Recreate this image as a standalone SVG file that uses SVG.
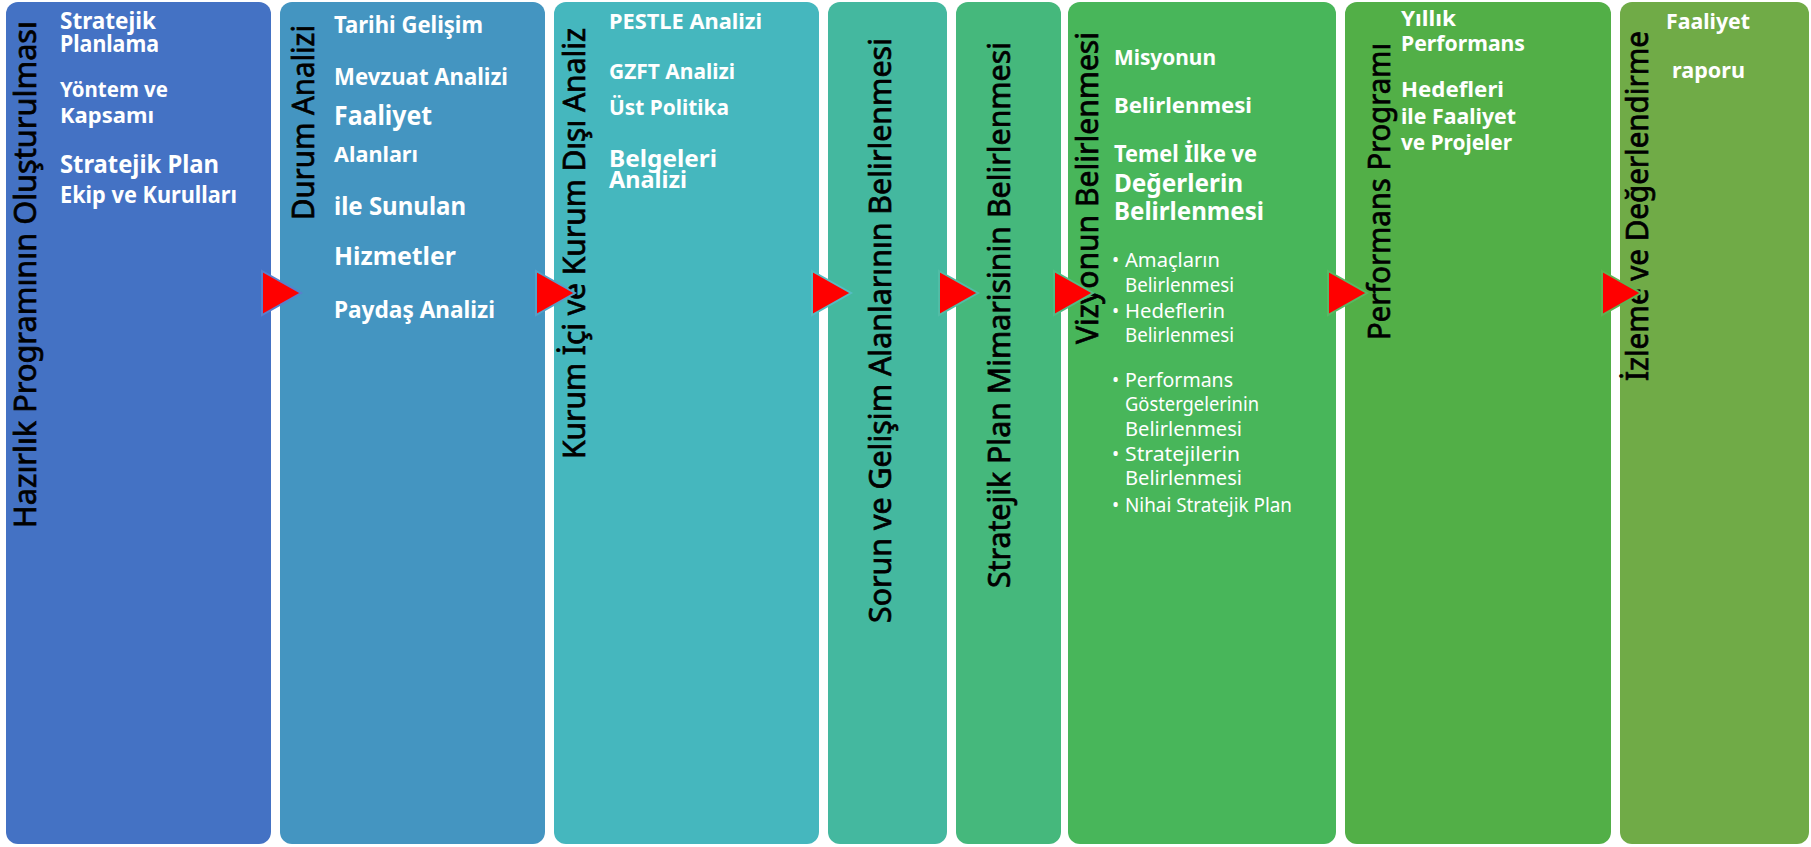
<svg xmlns="http://www.w3.org/2000/svg" width="1811" height="847" viewBox="0 0 1811 847">
<defs>
<style>
.panel{stroke:none}
.title{font-family:"Noto Sans","Liberation Sans",sans-serif;font-size:30px;fill:#000000;stroke:#000000;stroke-width:0.7}
.w{font-family:"Noto Sans","Liberation Sans",sans-serif;font-weight:bold;fill:#ffffff}
.b{font-family:"Noto Sans","Liberation Sans",sans-serif;font-size:19px;fill:#ffffff}
.arrow{fill:#ff0000;stroke-width:2;stroke-linejoin:miter}
</style>
</defs>
<rect x="0" y="0" width="1811" height="847" fill="#ffffff"/>
<g id="node-1">
<rect class="panel" x="6" y="2" width="265" height="842" rx="12" fill="#4472C4"/>
<text class="title" transform="translate(36,528) rotate(-90)" textLength="507" lengthAdjust="spacingAndGlyphs">Hazırlık Programının Oluşturulması</text>
<text class="w" x="60" y="29" font-size="23" textLength="96" lengthAdjust="spacingAndGlyphs">Stratejik</text>
<text class="w" x="60" y="52" font-size="23" textLength="99" lengthAdjust="spacingAndGlyphs">Planlama</text>
<text class="w" x="60" y="97" font-size="22" textLength="108" lengthAdjust="spacingAndGlyphs">Yöntem ve</text>
<text class="w" x="60" y="123" font-size="22" textLength="94" lengthAdjust="spacingAndGlyphs">Kapsamı</text>
<text class="w" x="60" y="173" font-size="25" textLength="159" lengthAdjust="spacingAndGlyphs">Stratejik Plan</text>
<text class="w" x="60" y="203" font-size="24" textLength="177" lengthAdjust="spacingAndGlyphs">Ekip ve Kurulları</text>
</g>
<g id="node-2">
<rect class="panel" x="280" y="2" width="265" height="842" rx="12" fill="#4495C1"/>
<text class="title" transform="translate(314,220) rotate(-90)" textLength="195" lengthAdjust="spacingAndGlyphs">Durum Analizi</text>
<text class="w" x="334" y="33" font-size="24" textLength="149" lengthAdjust="spacingAndGlyphs">Tarihi Gelişim</text>
<text class="w" x="334" y="85" font-size="24" textLength="174" lengthAdjust="spacingAndGlyphs">Mevzuat Analizi</text>
<text class="w" x="334" y="125" font-size="26" textLength="98" lengthAdjust="spacingAndGlyphs">Faaliyet</text>
<text class="w" x="334" y="162" font-size="22" textLength="84" lengthAdjust="spacingAndGlyphs">Alanları</text>
<text class="w" x="334" y="215" font-size="25" textLength="132" lengthAdjust="spacingAndGlyphs">ile Sunulan</text>
<text class="w" x="334" y="265" font-size="25" textLength="122" lengthAdjust="spacingAndGlyphs">Hizmetler</text>
<text class="w" x="334" y="318" font-size="24" textLength="161" lengthAdjust="spacingAndGlyphs">Paydaş Analizi</text>
</g>
<g id="node-3">
<rect class="panel" x="554" y="2" width="265" height="842" rx="12" fill="#45B7BE"/>
<text class="title" transform="translate(585,459) rotate(-90)" textLength="431" lengthAdjust="spacingAndGlyphs">Kurum İçi ve Kurum Dışı Analiz</text>
<text class="w" x="609" y="29" font-size="22" textLength="153" lengthAdjust="spacingAndGlyphs">PESTLE Analizi</text>
<text class="w" x="609" y="79" font-size="22" textLength="126" lengthAdjust="spacingAndGlyphs">GZFT Analizi</text>
<text class="w" x="609" y="115" font-size="22" textLength="120" lengthAdjust="spacingAndGlyphs">Üst Politika</text>
<text class="w" x="609" y="167" font-size="23" textLength="108" lengthAdjust="spacingAndGlyphs">Belgeleri</text>
<text class="w" x="609" y="188" font-size="23" textLength="78" lengthAdjust="spacingAndGlyphs">Analizi</text>
</g>
<g id="node-4">
<rect class="panel" x="828" y="2" width="119" height="842" rx="12" fill="#44B89F"/>
<text class="title" transform="translate(891,623) rotate(-90)" textLength="585" lengthAdjust="spacingAndGlyphs">Sorun ve Gelişim Alanlarının Belirlenmesi</text>
</g>
<g id="node-5">
<rect class="panel" x="956" y="2" width="105" height="842" rx="12" fill="#45B87C"/>
<text class="title" transform="translate(1010,588) rotate(-90)" textLength="546" lengthAdjust="spacingAndGlyphs">Stratejik Plan Mimarisinin Belirlenmesi</text>
</g>
<g id="node-6">
<rect class="panel" x="1068" y="2" width="268" height="842" rx="12" fill="#48B65A"/>
<text class="title" transform="translate(1098,344) rotate(-90)" textLength="312" lengthAdjust="spacingAndGlyphs">Vizyonun Belirlenmesi</text>
<text class="w" x="1114" y="65" font-size="22" textLength="102" lengthAdjust="spacingAndGlyphs">Misyonun</text>
<text class="w" x="1114" y="113" font-size="22" textLength="138" lengthAdjust="spacingAndGlyphs">Belirlenmesi</text>
<text class="w" x="1114" y="162" font-size="23" textLength="143" lengthAdjust="spacingAndGlyphs">Temel İlke ve</text>
<text class="w" x="1114" y="192" font-size="25" textLength="129" lengthAdjust="spacingAndGlyphs">Değerlerin</text>
<text class="w" x="1114" y="220" font-size="25" textLength="150" lengthAdjust="spacingAndGlyphs">Belirlenmesi</text>
<text class="b" x="1112" y="267">•</text>
<text class="b" x="1125" y="267" textLength="95" lengthAdjust="spacingAndGlyphs">Amaçların</text>
<text class="b" x="1125" y="292" textLength="109" lengthAdjust="spacingAndGlyphs">Belirlenmesi</text>
<text class="b" x="1112" y="318">•</text>
<text class="b" x="1125" y="318" textLength="100" lengthAdjust="spacingAndGlyphs">Hedeflerin</text>
<text class="b" x="1125" y="342" textLength="109" lengthAdjust="spacingAndGlyphs">Belirlenmesi</text>
<text class="b" x="1112" y="387">•</text>
<text class="b" x="1125" y="387" textLength="108" lengthAdjust="spacingAndGlyphs">Performans</text>
<text class="b" x="1125" y="411" textLength="134" lengthAdjust="spacingAndGlyphs">Göstergelerinin</text>
<text class="b" x="1125" y="436" textLength="117" lengthAdjust="spacingAndGlyphs">Belirlenmesi</text>
<text class="b" x="1112" y="461">•</text>
<text class="b" x="1125" y="461" textLength="115" lengthAdjust="spacingAndGlyphs">Stratejilerin</text>
<text class="b" x="1125" y="485" textLength="117" lengthAdjust="spacingAndGlyphs">Belirlenmesi</text>
<text class="b" x="1112" y="512">•</text>
<text class="b" x="1125" y="512" textLength="167" lengthAdjust="spacingAndGlyphs">Nihai Stratejik Plan</text>
</g>
<g id="node-7">
<rect class="panel" x="1345" y="2" width="266" height="842" rx="12" fill="#52AF47"/>
<text class="title" transform="translate(1390,340) rotate(-90)" textLength="297" lengthAdjust="spacingAndGlyphs">Performans Programı</text>
<text class="w" x="1401" y="26" font-size="22" textLength="55" lengthAdjust="spacingAndGlyphs">Yıllık</text>
<text class="w" x="1401" y="51" font-size="22" textLength="124" lengthAdjust="spacingAndGlyphs">Performans</text>
<text class="w" x="1401" y="97" font-size="22" textLength="103" lengthAdjust="spacingAndGlyphs">Hedefleri</text>
<text class="w" x="1401" y="124" font-size="22" textLength="115" lengthAdjust="spacingAndGlyphs">ile Faaliyet</text>
<text class="w" x="1401" y="150" font-size="22" textLength="111" lengthAdjust="spacingAndGlyphs">ve Projeler</text>
</g>
<g id="node-8">
<rect class="panel" x="1620" y="2" width="189" height="842" rx="12" fill="#70AB47"/>
<text class="title" transform="translate(1648,381) rotate(-90)" textLength="350" lengthAdjust="spacingAndGlyphs">İzleme ve Değerlendirme</text>
<text class="w" x="1666" y="29" font-size="22" textLength="84" lengthAdjust="spacingAndGlyphs">Faaliyet</text>
<text class="w" x="1672" y="78" font-size="22" textLength="73" lengthAdjust="spacingAndGlyphs">raporu</text>
</g>
<g id="connectors">
<polygon class="arrow" stroke="#5a7fcc" points="262,271 301,293 262,315"/>
<polygon class="arrow" stroke="#55a0c8" points="536,271 575,293 536,315"/>
<polygon class="arrow" stroke="#55bcc2" points="812,271 851,293 812,315"/>
<polygon class="arrow" stroke="#52bca6" points="939,271 978,293 939,315"/>
<polygon class="arrow" stroke="#52bc86" points="1054,271 1093,293 1054,315"/>
<polygon class="arrow" stroke="#58b864" points="1328,271 1367,293 1328,315"/>
<polygon class="arrow" stroke="#60b252" points="1602,271 1641,293 1602,315"/>
</g>
</svg>
